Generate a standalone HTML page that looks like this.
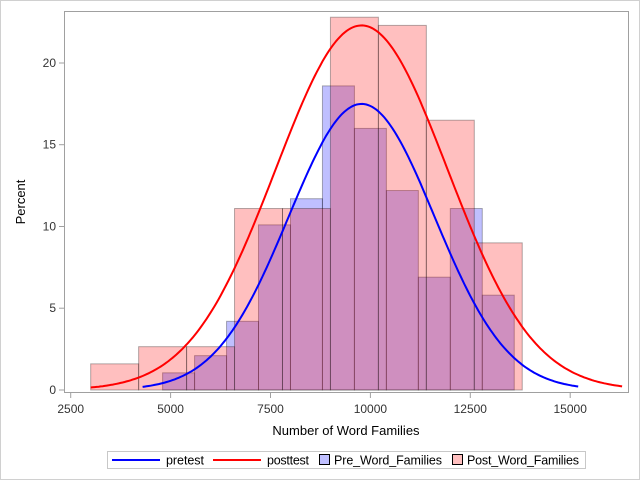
<!DOCTYPE html>
<html><head><meta charset="utf-8"><style>
html,body{margin:0;padding:0;background:#fff}
svg{display:block;font-family:"Liberation Sans",Arial,sans-serif}
</style></head><body>
<svg id="s" width="640" height="480" viewBox="0 0 640 480" xmlns="http://www.w3.org/2000/svg">
<rect x="0.5" y="0.5" width="639" height="479" fill="#fff" stroke="#d0d0d0"/>
<rect x="64.5" y="11.5" width="564" height="381" fill="#fff" stroke="#a0a0a0"/>
<g id="bars"></g>
<g id="curves"></g>
<g font-size="12" fill="#333">
<g stroke="#a0a0a0">
<line x1="59" y1="390" x2="64" y2="390"/><line x1="59" y1="308.2" x2="64" y2="308.2"/><line x1="59" y1="226.5" x2="64" y2="226.5"/><line x1="59" y1="144.7" x2="64" y2="144.7"/><line x1="59" y1="63" x2="64" y2="63"/>
<line x1="70.7" y1="393" x2="70.7" y2="398"/><line x1="170.6" y1="393" x2="170.6" y2="398"/><line x1="270.5" y1="393" x2="270.5" y2="398"/><line x1="370.4" y1="393" x2="370.4" y2="398"/><line x1="470.3" y1="393" x2="470.3" y2="398"/><line x1="570.2" y1="393" x2="570.2" y2="398"/>
</g>
<g text-anchor="end"><text x="56" y="394">0</text><text x="56" y="312">5</text><text x="56" y="230.5">10</text><text x="56" y="148.7">15</text><text x="56" y="67">20</text></g>
<g text-anchor="middle"><text x="70.7" y="413">2500</text><text x="170.6" y="413">5000</text><text x="270.5" y="413">7500</text><text x="370.4" y="413">10000</text><text x="470.3" y="413">12500</text><text x="570.2" y="413">15000</text></g>
<text x="346" y="435" text-anchor="middle" font-size="13" fill="#000">Number of Word Families</text>
<text transform="translate(25,202) rotate(-90)" text-anchor="middle" font-size="13" fill="#000">Percent</text>
</g>
<rect x="107.5" y="451.5" width="478" height="17" fill="#fff" stroke="#c8c8c8"/>
<g font-size="12.5" fill="#000">
<line x1="112" y1="460" x2="160" y2="460" stroke="#0000ff" stroke-width="2"/><text x="166" y="464.5" textLength="38">pretest</text>
<line x1="213" y1="460" x2="261" y2="460" stroke="#ff0000" stroke-width="2"/><text x="267" y="464.5" textLength="42">posttest</text>
<rect x="319.5" y="454.5" width="10" height="10" fill="#bfbfff" stroke="#000"/><text x="334" y="464.5" textLength="108">Pre_Word_Families</text>
<rect x="452.5" y="454.5" width="10" height="10" fill="#ffbfbf" stroke="#000"/><text x="467" y="464.5" textLength="112">Post_Word_Families</text>
</g>
</svg>
<script>
var X=function(v){return 70.7+(v-2500)*0.03996},Y=function(p){return 390-16.35*p};
var pre=[[4800,1.05],[5600,2.1],[6400,4.2],[7200,10.1],[8000,11.7],[8800,18.6],[9600,16.0],[10400,12.2],[11200,6.9],[12000,11.1],[12800,5.8]];
var post=[[3000,1.6],[4200,2.65],[5400,2.65],[6600,11.1],[7800,11.1],[9000,22.8],[10200,22.3],[11400,16.5],[12600,9.0]];
var h='';
pre.forEach(function(b){h+='<rect x="'+X(b[0])+'" y="'+Y(b[1])+'" width="'+(800*0.03996)+'" height="'+(16.35*b[1])+'" fill="#0000ff" fill-opacity="0.25" stroke="#000" stroke-opacity="0.3"/>';});
post.forEach(function(b){h+='<rect x="'+X(b[0])+'" y="'+Y(b[1])+'" width="'+(1200*0.03996)+'" height="'+(16.35*b[1])+'" fill="#ff0000" fill-opacity="0.25" stroke="#000" stroke-opacity="0.3"/>';});
document.getElementById('bars').innerHTML=h;
function curve(m,s,bw,a,b,col){var d='';for(var v=a;v<=b;v+=50){var p=bw*100/(s*2.5066)*Math.exp(-0.5*Math.pow((v-m)/s,2));d+=(d?'L':'M')+X(v).toFixed(1)+' '+Y(p).toFixed(1);}return '<path d="'+d+'" fill="none" stroke="'+col+'" stroke-width="2"/>';}
document.getElementById('curves').innerHTML=curve(9780,1824,800,4300,15200,'#0000ff')+curve(9780,2147,1200,3000,16300,'#ff0000');
</script>
</body></html>
